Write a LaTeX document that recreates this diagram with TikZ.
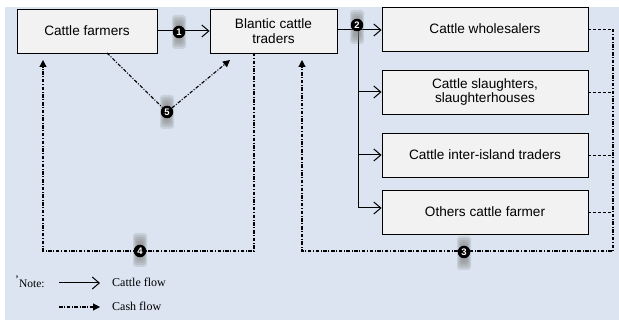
\documentclass[tikz,border=0pt]{standalone}
\usepackage{fontspec}
\setmainfont{Liberation Sans}
\newfontfamily\notefont{Liberation Serif}
\usetikzlibrary{arrows.meta,calc}
\definecolor{panel}{RGB}{219,228,240}
\definecolor{boxfill}{RGB}{242,242,242}

\begin{document}
\begin{tikzpicture}[x=1pt,y=-1pt,
  actor/.style={draw=black, line width=0.9pt, fill=boxfill, align=center,
    font=\fontsize{13.6}{14.5}\selectfont, inner sep=0pt, minimum height=44pt},
  cattle/.style={line width=1pt, -{Straight Barb[length=7pt,width=12pt,line width=1pt]}},
  cashline/.style={line width=1.1pt, dash pattern=on 3.5pt off 1.6pt on 1pt off 1.6pt},
  cash/.style={cashline, -{Triangle[length=7pt,width=7pt]}},
  tick/.style={line width=0.8pt, dash pattern=on 3pt off 2pt},
  badge/.style={circle, fill=black, text=white, inner sep=0pt, minimum size=12.5pt,
    font=\bfseries\fontsize{9.5}{9.5}\selectfont},
  glow/.pic={
    \foreach \w/\h in {7/17,6/15,5/13,4/11,3/9}
      \fill[black!50, opacity=0.2, rounded corners=3pt] (-\w,-\h) rectangle (\w,\h);
  },
  legend/.style={font=\notefont\fontsize{12}{13}\selectfont, anchor=west, inner sep=0pt},
]
% canvas and panel
\useasboundingbox (0,0) rectangle (619,323);
\fill[white] (0,0) rectangle (619,323);
\fill[panel] (5,7) rectangle (619,320);

% actors
\node[actor, minimum width=140pt] (farm) at (87,31) {Cattle farmers};
\node[actor, minimum width=127pt] (blantic) at (273.5,31) {Blantic cattle\\traders};
\node[actor, minimum width=206pt] (whole) at (485,29) {Cattle wholesalers};
\node[actor, minimum width=206pt] (slaught) at (485,92) {Cattle slaughters,\\slaughterhouses};
\node[actor, minimum width=206pt] (inter) at (485,155) {Cattle inter-island traders};
\node[actor, minimum width=206pt] (others) at (485,212) {Others cattle farmer};

% route points
\coordinate (trunk) at (358,30);
\coordinate (trunkend) at (358,208);
\coordinate (railtop) at (613,29);
\coordinate (railbot) at (613,251);
\coordinate (rcorner) at (302,251);
\coordinate (rtip) at (302,60);
\coordinate (lstart) at (254,53);
\coordinate (lbend) at (254,251);
\coordinate (lcorner) at (43,251);
\coordinate (ltip) at (43,60);
\coordinate (fivestart) at (107,53);
\coordinate (fivetip) at (230,60);

% cattle flow
\draw[cattle] (farm.east) -- (blantic.west);
\draw[line width=1pt] (blantic.east |- trunk) -- (trunk) -- (trunkend);
\draw[cattle] (trunk) -- (whole.west |- trunk);
\draw[cattle] (trunk |- slaught.west) -- (slaught.west);
\draw[cattle] (trunk |- inter.west) -- (inter.west);
\draw[cattle] (trunkend) -- (others.west |- trunkend);

% cash flow
\draw[tick] (whole.east) -- (whole.east -| railtop);
\draw[tick] (slaught.east) -- (slaught.east -| railtop);
\draw[tick] (inter.east) -- (inter.east -| railtop);
\draw[tick] (others.east) -- (others.east -| railtop);
\draw[cash] (railtop) -- (railbot) -- (rcorner) -- (rtip);
\draw[cash] (lstart) -- (lbend) -- (lcorner) -- (ltip);

% step markers
\pic at (179,32) {glow};
\pic at (357,27) {glow};
\pic at (167,112) {glow};
\pic at (140,250) {glow};
\pic at (464,253) {glow};
\node[badge] (b1) at (179,32) {1};
\node[badge] (b2) at (357,25) {2};
\node[badge] (b5) at (167,112) {5};
\node[badge] (b4) at (140,251) {4};
\node[badge] (b3) at (464,252) {3};

\draw[cashline] (fivestart) -- (b5);
\draw[cash] (b5) -- (fivetip);

% legend
\node[legend, font=\notefont\fontsize{11.5}{12}\selectfont] (note) at (15,282) {\raisebox{4pt}{’}Note:};
\coordinate (la1) at (59,283);
\coordinate (la2) at (100,283);
\coordinate (lb1) at (59,307);
\coordinate (lb2) at (100,307);
\draw[cattle] (la1) -- (la2);
\draw[cash] (lb1) -- (lb2);
\node[legend] (lcattle) at (112,282) {Cattle flow};
\node[legend] (lcash) at (112,306) {Cash flow};
\end{tikzpicture}
\end{document}
